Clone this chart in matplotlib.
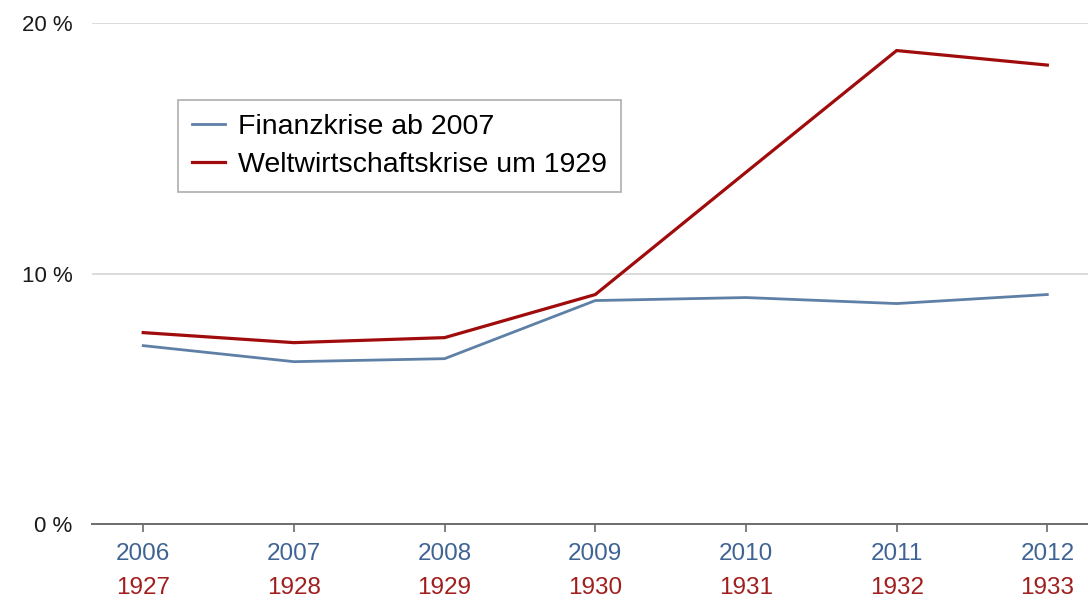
import matplotlib

matplotlib.use("Agg")

import matplotlib.pyplot as plt
from matplotlib.transforms import blended_transform_factory

# --- data (percent) ---
years_now = ["2006", "2007", "2008", "2009", "2010", "2011", "2012"]
years_then = ["1927", "1928", "1929", "1930", "1931", "1932", "1933"]
finanzkrise = [7.12, 6.48, 6.60, 8.92, 9.04, 8.80, 9.16]
weltwirtschaftskrise = [7.64, 7.24, 7.44, 9.16, 14.04, 18.90, 18.32]
y_ticks = [0, 10, 20]
y_ticklabels = ["0 %", "10 %", "20 %"]

BLUE = "#5f80a6"
BLUE_TXT = "#3f6494"
RED = "#a00c0c"
RED_TXT = "#a01e1e"

plt.rcParams["font.family"] = ["Liberation Sans", "DejaVu Sans"]

fig = plt.figure(figsize=(10.88, 5.98), dpi=100)
ax = fig.add_axes([92 / 1088, 1 - 524 / 598, 1 - 92 / 1088, 501 / 598])

x = list(range(len(years_now)))
ax.plot(x, finanzkrise, color=BLUE, lw=2.0, label="Finanzkrise ab 2007",
        solid_joinstyle="round", zorder=3)
ax.plot(x, weltwirtschaftskrise, color=RED, lw=2.3,
        label="Weltwirtschaftskrise um 1929", solid_joinstyle="round", zorder=4)

ax.set_xlim(-0.34, 6.27)
ax.set_ylim(0, 20)

# horizontal grid lines (only above zero)
for yv in y_ticks[1:]:
    ax.axhline(yv, color="#d9d9d9", lw=1.3, zorder=1)

for side in ("left", "right", "top"):
    ax.spines[side].set_visible(False)
ax.spines["bottom"].set_color("#6b6b6b")
ax.spines["bottom"].set_linewidth(1.4)

ax.set_yticks(y_ticks)
ax.set_yticklabels(y_ticklabels, fontsize=16, color="#1a1a1a")
ax.tick_params(axis="y", length=0, pad=14)

ax.set_xticks(x)
ax.set_xticklabels(years_now, fontsize=17.5, color=BLUE_TXT)
ax.tick_params(axis="x", length=5.8, width=1.2, color="#6b6b6b", pad=8)

# second row of x labels: the matching 1920s years, in red
trans = blended_transform_factory(ax.transData, ax.transAxes)
for xi, lab in zip(x, years_then):
    ax.text(xi, -0.128, lab, transform=trans, ha="center", va="center",
            fontsize=17.5, color=RED_TXT, clip_on=False)

leg = ax.legend(loc="upper left", bbox_to_anchor=((178 - 92) / 996, 1 - (100 - 23) / 501),
                fontsize=20.5, frameon=True, fancybox=False, handlelength=1.15,
                handletextpad=0.45, borderpad=0.5, labelspacing=0.4,
                borderaxespad=0)
leg.get_frame().set_edgecolor("#9a9a9a")
leg.get_frame().set_linewidth(1.2)

fig.savefig("out.png", dpi=100)
